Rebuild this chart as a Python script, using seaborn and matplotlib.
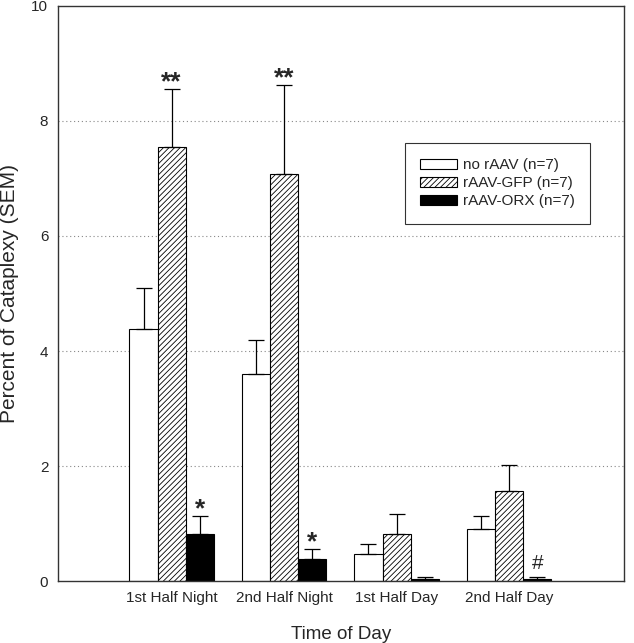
import pandas as pd
import seaborn as sns
import numpy as np
import matplotlib.pyplot as plt

# values
times = ["1st Half Night", "2nd Half Night", "1st Half Day", "2nd Half Day"]
groups = ["no rAAV (n=7)", "rAAV-GFP (n=7)", "rAAV-ORX (n=7)"]
no_raav = [4.38, 3.60, 0.47, 0.90]
no_raav_sem = [0.72, 0.59, 0.17, 0.23]
gfp = [7.55, 7.07, 0.82, 1.57]
gfp_sem = [1.01, 1.56, 0.35, 0.45]
orx = [0.82, 0.38, 0.04, 0.04]
orx_sem = [0.31, 0.18, 0.03, 0.03]
marks_gfp = ["**", "**", "", ""]
marks_orx = ["*", "*", "", "#"]

# long format table for seaborn
df = pd.DataFrame(
    {
        "time": times * 3,
        "group": np.repeat(groups, len(times)),
        "value": no_raav + gfp + orx,
        "sem": no_raav_sem + gfp_sem + orx_sem,
        "mark": [""] * 4 + marks_gfp + marks_orx,
    }
)

sns.set_style("white")
plt.rcParams["font.family"] = ["Liberation Sans", "DejaVu Sans"]
plt.rcParams["hatch.linewidth"] = 0.6

fig = plt.figure(figsize=(6.34, 6.43), dpi=100)
ax = fig.add_axes([0.0915, 0.0964, 0.8925, 0.8943])

sns.barplot(
    data=df, x="time", y="value", hue="group", order=times, hue_order=groups,
    errorbar=None, width=0.75, ax=ax, legend=True,
)

styles = [("white", ""), ("white", "//////"), ("black", "")]
for cont, (fc, hatch), g in zip(ax.containers, styles, groups):
    sub = df[df["group"] == g].set_index("time").loc[times]
    for bar, err, mk in zip(cont, sub["sem"], sub["mark"]):
        bar.set_facecolor(fc)
        bar.set_edgecolor("black")
        bar.set_linewidth(0.8)
        bar.set_hatch(hatch)
        xc = bar.get_x() + bar.get_width() / 2
        h = bar.get_height()
        # upper error bar only
        ax.errorbar(xc, h, yerr=[[0], [err]], fmt="none", ecolor="black",
                    elinewidth=0.9, capsize=6, capthick=0.9, zorder=3)
        if mk == "#":
            ax.annotate(mk, (xc, h + err), xytext=(0, 3), textcoords="offset points",
                        ha="center", va="bottom", fontsize=15, zorder=4)
        elif mk:
            ax.annotate(mk, (xc, h + err), xytext=(0, -4), textcoords="offset points",
                        ha="center", va="bottom", fontsize=19, fontweight="bold",
                        zorder=4)

for y in [2, 4, 6, 8]:
    ax.axhline(y, color="#888888", linestyle=(0, (1, 2.5)), linewidth=0.8, zorder=0)

ax.set_xlim(-1.01, 4.02)
ax.set_ylim(0, 10)
ax.set_yticks([0, 2, 4, 6, 8, 10])
ax.tick_params(axis="both", length=0, labelsize=11, pad=7)
for s in ax.spines.values():
    s.set_color("#333333")
    s.set_linewidth(1.0)
ax.set_xlabel("Time of Day", fontsize=13.5, labelpad=15)
ax.set_ylabel("Percent of Cataplexy (SEM)", fontsize=15, labelpad=9)

leg = ax.legend(
    loc="upper right", bbox_to_anchor=(0.94, 0.762), frameon=True, fancybox=False,
    edgecolor="black", fontsize=11, handlelength=2.4, handleheight=0.6,
    borderpad=1.0, labelspacing=0.27, handletextpad=0.4, borderaxespad=0,
)
leg.get_frame().set_linewidth(0.8)
for hnd, (fc, hatch) in zip(leg.legend_handles, styles):
    hnd.set_facecolor(fc)
    hnd.set_edgecolor("black")
    hnd.set_hatch(hatch)
    hnd.set_linewidth(0.8)

fig.savefig("out.png", dpi=100)
